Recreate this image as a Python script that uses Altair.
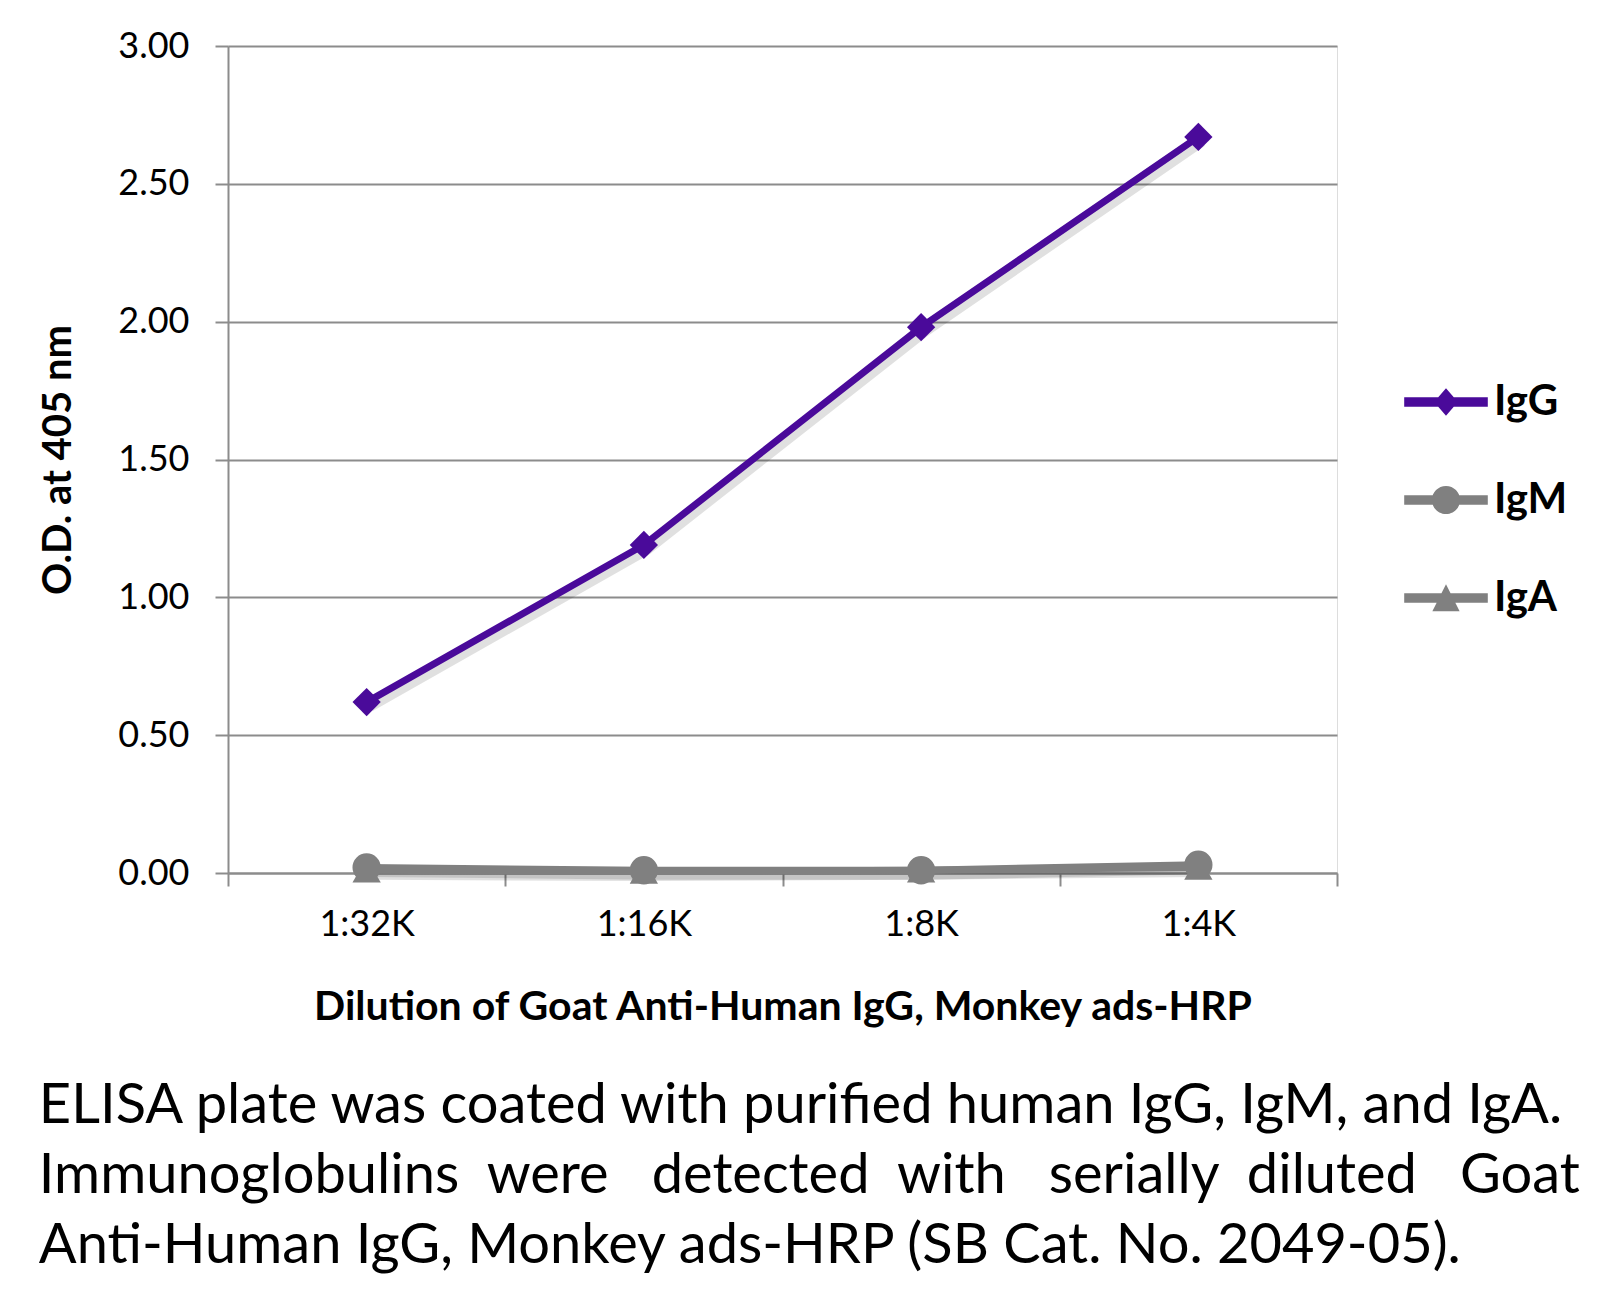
import altair as alt
import pandas as pd

dilutions = ["1:32K", "1:16K", "1:8K", "1:4K"]
series_names = ["IgG", "IgM", "IgA"]
igg = [0.62, 1.19, 1.98, 2.67]
igm = [0.02, 0.01, 0.01, 0.03]
iga = [0.01, 0.005, 0.01, 0.02]
colors = ["#4a0a9a", "#808080", "#808080"]
marker_shapes = ["diamond", "circle", "triangle-up"]
NB = "\u00a0"
caption_lines = [
    "ELISA plate was coated with purified human IgG, IgM, and IgA.",
    f"Immunoglobulins{NB} were{NB}{NB} detected{NB} with{NB}{NB} serially{NB} diluted{NB}{NB} Goat",
    "Anti-Human IgG, Monkey ads-HRP (SB Cat. No. 2049-05).",
]

rows = []
for name, vals in zip(series_names, [igg, igm, iga]):
    for d, v in zip(dilutions, vals):
        rows.append({"dilution": d, "series": name, "od": v})
df = pd.DataFrame(rows)

FONT = "Lato"
GRID = "#8c8c8c"

# legend symbols: line segment + marker (unit square coordinates)
legend_paths = [
    "M-0.95,-0.11 H0.95 V0.11 H-0.95 Z M0,-0.31 L0.27,0 L0,0.31 L-0.27,0 Z",
    "M-0.95,-0.11 H0.95 V0.11 H-0.95 Z M-0.32,0 A0.32,0.32 0 1 1 0.32,0 A0.32,0.32 0 1 1 -0.32,0 Z",
    "M-0.95,-0.11 H0.95 V0.11 H-0.95 Z M0,-0.31 L0.31,0.3 L-0.31,0.3 Z",
]

x_enc = alt.X(
    "dilution:N",
    sort=dilutions,
    scale=alt.Scale(type="band", paddingInner=0, paddingOuter=0),
    axis=alt.Axis(
        title="Dilution of Goat Anti-Human IgG, Monkey ads-HRP",
        labelAngle=0,
        tickBand="extent",
        tickSize=13,
        tickColor=GRID,
        tickWidth=2,
        domainColor=GRID,
        domainWidth=2,
        labelFontSize=36,
        labelFont=FONT,
        labelColor="#000000",
        labelPadding=21,
        titleFontSize=41,
        titleFont=FONT,
        titleFontWeight="bold",
        titleColor="#000000",
        titlePadding=45,
        grid=False,
    ),
)
y_enc = alt.Y(
    "od:Q",
    scale=alt.Scale(domain=[0, 3], nice=False, zero=True),
    axis=alt.Axis(
        title="O.D. at 405 nm",
        values=[0, 0.5, 1, 1.5, 2, 2.5, 3],
        format=".2f",
        tickSize=13,
        tickColor=GRID,
        tickWidth=2,
        domainColor=GRID,
        domainWidth=2,
        gridColor=GRID,
        gridWidth=2,
        labelFontSize=36,
        labelFont=FONT,
        labelColor="#000000",
        labelPadding=26,
        titleFontSize=40,
        titleFont=FONT,
        titleFontWeight="bold",
        titleColor="#000000",
        titlePadding=39,
    ),
)

color_nolegend = alt.Color(
    "series:N",
    scale=alt.Scale(domain=series_names, range=colors),
    legend=None,
)

base = alt.Chart(df)

shadow_lines = base.mark_line(strokeWidth=9, color="#000000", opacity=0.12, xOffset=4, yOffset=5).encode(
    x=x_enc, y=y_enc, detail="series:N"
)
lines = base.mark_line(strokeWidth=7).encode(x=x_enc, y=y_enc, color=color_nolegend)
points = base.mark_point(filled=True, size=800, opacity=1).encode(
    x=x_enc,
    y=y_enc,
    color=color_nolegend,
    shape=alt.Shape("series:N", scale=alt.Scale(domain=series_names, range=marker_shapes), legend=None),
)

legend_props = dict(
    title=None,
    orient="none",
    legendX=1174,
    legendY=312,
    symbolSize=7744,
    symbolStrokeWidth=0,
    rowPadding=33,
    labelFontSize=42,
    labelFont=FONT,
    labelFontWeight="bold",
    labelColor="#000000",
    labelOffset=4,
    padding=0,
)

legend_layer = base.transform_filter("false").mark_point(filled=True, opacity=1).encode(
    x=x_enc,
    y=y_enc,
    color=alt.Color(
        "series:N",
        scale=alt.Scale(domain=series_names, range=colors),
        legend=alt.Legend(**legend_props),
    ),
    shape=alt.Shape(
        "series:N",
        scale=alt.Scale(domain=series_names, range=legend_paths),
        legend=alt.Legend(**legend_props),
    ),
)

chart = (
    alt.layer(shadow_lines, lines, points, legend_layer)
    .resolve_scale(shape="independent", color="independent")
    .properties(
        width=1109,
        height=827,
        autosize=alt.AutoSizeParams(type="none"),
        padding={"left": 228, "top": 46, "right": 268, "bottom": 433},
        title=alt.TitleParams(
            text=caption_lines,
            orient="bottom",
            anchor="start",
            frame="bounds",
            font=FONT,
            fontSize=56,
            fontWeight="normal",
            color="#000000",
            lineHeight=70,
            offset=52,
        ),
    )
    .configure_view(stroke=None)
    .configure(background="#ffffff")
)

chart.save("out.html", embed_options={"renderer": "svg", "actions": False})
